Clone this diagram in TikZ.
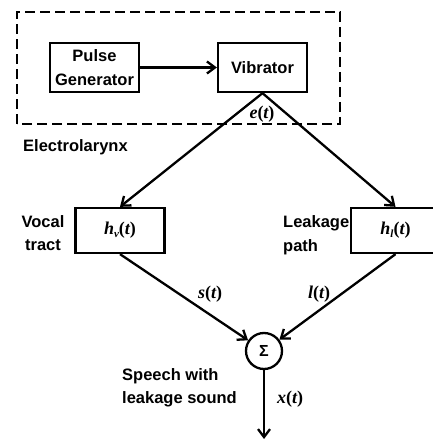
\documentclass[tikz,border=0pt]{standalone}
\usepackage{fontspec}
\setmainfont{Liberation Sans}
\newfontfamily\tnr{Liberation Serif}
\usetikzlibrary{arrows.meta}
\newcommand{\sg}[2]{{\tnr\bfseries\itshape #1\upshape(\itshape #2\upshape)}}
\newcommand{\hsub}[1]{{\tnr\bfseries\itshape h\raisebox{-0.3ex}{\fontsize{11}{11}\selectfont #1}\upshape(\itshape t\upshape)}}
\begin{document}
\begin{tikzpicture}[x=1pt,y=1pt,
  blockbox/.style={draw, line width=2.3pt, minimum width=89pt, minimum height=49pt, inner sep=0pt,
    font=\bfseries\fontsize{16.5}{23.5}\selectfont, align=center},
  lbl/.style={font=\bfseries\fontsize{16.5}{23.5}\selectfont, inner sep=0pt},
  sig/.style={font=\fontsize{18}{20}\selectfont, inner sep=0pt},
  conn/.style={line width=2.3pt, -{Straight Barb[length=8pt,width=12pt,line width=2.3pt]}}
]
\useasboundingbox (0,0) rectangle (432,441);
\draw[line width=2.7pt, dash pattern=on 10pt off 5pt] (17,317) rectangle (340,429);
\node[blockbox] (pg) at (94.5,373.5) {Pulse\\Generator};
\node[blockbox] (vib) at (262.5,373.5) {Vibrator};
\node[blockbox, minimum height=45pt, font=\fontsize{18}{20}\selectfont] (hv) at (120,210.5) {\hsub{v}};
\node[blockbox, minimum height=45pt, font=\fontsize{18}{20}\selectfont] (hl) at (395.5,210.5) {\hsub{l}};
\node[circle, draw, line width=2.3pt, minimum size=36pt, inner sep=0pt,
  font=\bfseries\fontsize{16}{16}\selectfont] (sum) at (264,90) {Σ};
\coordinate (out) at (264,2);

\draw[conn] (pg) -- (vib);
\draw[conn] (vib.south) -- (hv.north);
\draw[conn] (vib.south) -- (hl.north);
\draw[conn] (hv.south) -- (sum);
\draw[conn] (hl.south) -- (sum);
\draw[conn] (sum) -- (out);

\node[sig] (et) at (262,327) {\sg{e}{t}};
\node[lbl, anchor=west] (el) at (23,294) {Electrolarynx};
\node[lbl, align=center] (vt) at (43,208) {Vocal\\tract};
\node[lbl, align=left, anchor=west] (lp) at (283,206) {Leakage\\path};
\node[sig] (st) at (210,147) {\sg{s}{t}};
\node[sig] (lt) at (319,147) {\sg{l}{t}};
\node[sig] (xt) at (290,42) {\sg{x}{t}};
\node[lbl, align=left, anchor=west] (sp) at (122,53) {Speech with\\leakage sound};
\end{tikzpicture}
\end{document}
